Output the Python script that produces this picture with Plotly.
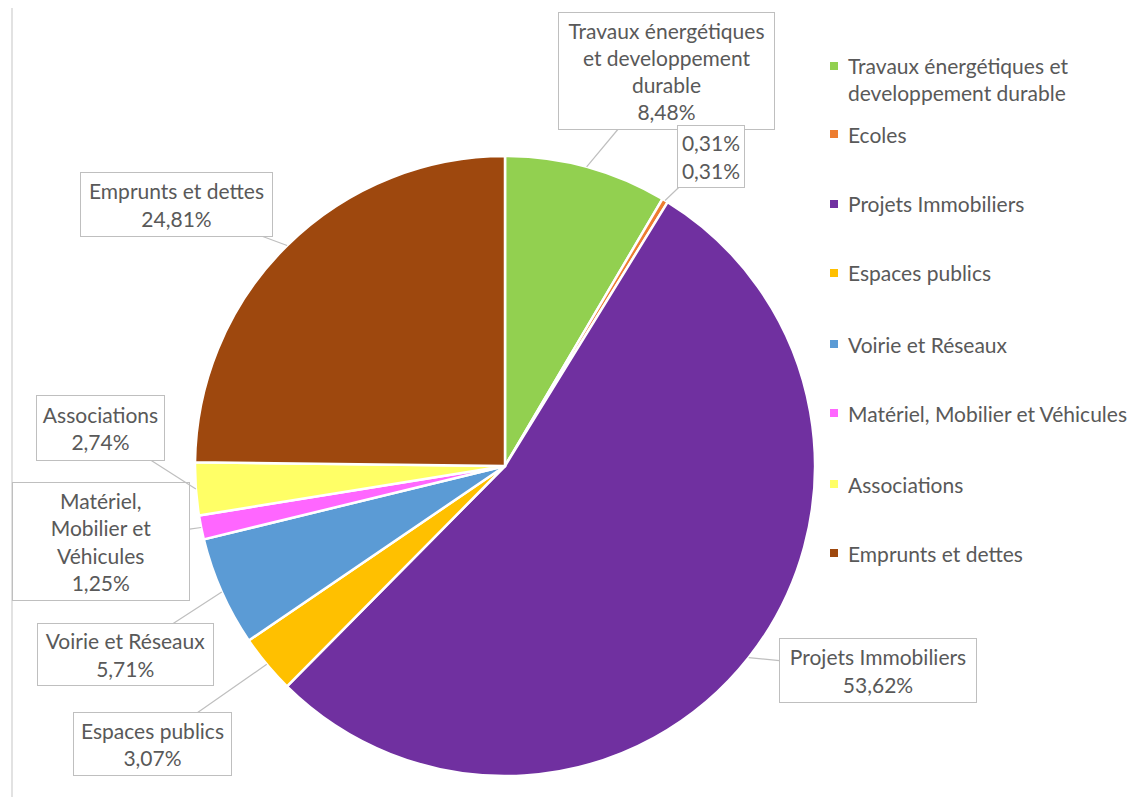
import math
import plotly.graph_objects as go

# ---- data ----
categories = ["Travaux énergétiques et developpement durable", "Ecoles", "Projets Immobiliers",
              "Espaces publics", "Voirie et Réseaux", "Matériel, Mobilier et Véhicules",
              "Associations", "Emprunts et dettes"]
values = [8.48, 0.31, 53.62, 3.07, 5.71, 1.25, 2.74, 24.81]
callout_titles = ["Travaux énergétiques<br>et developpement<br>durable", "0,31%", "Projets Immobiliers",
                  "Espaces publics", "Voirie et Réseaux", "Matériel,<br>Mobilier et<br>Véhicules",
                  "Associations", "Emprunts et dettes"]
legend_labels = ["Travaux énergétiques et<br>developpement durable", "Ecoles", "Projets Immobiliers",
                 "Espaces publics", "Voirie et Réseaux", "Matériel, Mobilier et Véhicules",
                 "Associations", "Emprunts et dettes"]
colors = ["#92D050", "#ED7D31", "#7030A0", "#FFC000", "#5B9BD5", "#FF66FF", "#FFFF66", "#9E480E"]

# ---- layout (pixels, screen coords; page body adds an 8px offset) ----
W, H = 1136, 797
OFF = 8
CX, CY, R = 505, 466, 310
box_c = [(666.5, 71), (711, 156.5), (878, 670.5), (152.5, 744), (125.5, 654.5), (101, 541.5), (100.5, 428), (176.5, 204.5)]
box_s = [(217, 118), (68, 63), (198, 65), (159, 64), (177, 63), (178, 119), (129, 66), (193, 65)]
legend_y = [79.5, 134, 204, 273, 344, 413, 484, 553]
legend_marker_y = [66, 134, 204, 273, 344, 413, 484, 553]

FONT = "Lato"
FS = 21
TXT = "#595959"
BORDER = "#BFBFBF"

def fmt(v):
    return f"{v:.2f}".replace(".", ",") + "%"

def px2paper(x, y):
    return (x - OFF) / W, 1 - (y - OFF) / H

fig = go.Figure()
x0p, y1p = px2paper(CX - R, CY - R)
x1p, y0p = px2paper(CX + R, CY + R)
fig.add_trace(go.Pie(
    labels=categories, values=values, sort=False, direction="clockwise", rotation=0,
    marker=dict(colors=colors, line=dict(color="white", width=2.5)),
    textinfo="none", showlegend=False,
    domain=dict(x=[x0p, x1p], y=[y0p, y1p]),
))

annotations = []
total = sum(values)
cum = 0.0
for i, v in enumerate(values):
    mid = (cum + v / 2) / total
    cum += v
    ang = 2 * math.pi * mid
    tx = CX + R * math.sin(ang)
    ty = CY - R * math.cos(ang)
    bx, by = box_c[i]
    bw, bh = box_s[i]
    px_, py_ = px2paper(tx, ty)
    annotations.append(dict(
        x=px_, y=py_, xref="paper", yref="paper",
        text=f"{callout_titles[i]}<br>{fmt(v)}",
        showarrow=True, arrowhead=0, arrowwidth=1.2, arrowcolor=BORDER,
        ax=bx - tx, ay=by - ty, axref="pixel", ayref="pixel",
        bgcolor="white", bordercolor=BORDER, borderwidth=1, borderpad=1,
        width=bw - 4, height=bh - 4, align="center", valign="middle",
        font=dict(family=FONT, size=FS, color=TXT),
    ))

lx0, _ = px2paper(12, 0)
shapes = [dict(type="line", xref="paper", yref="paper", x0=lx0, x1=lx0, y0=0, y1=1.02,
               line=dict(color="#D9D9D9", width=1.5))]
for i, lab in enumerate(legend_labels):
    my = legend_marker_y[i]
    ax0, ay1 = px2paper(830, my - 4)
    ax1, ay0 = px2paper(838, my + 4)
    shapes.append(dict(type="rect", xref="paper", yref="paper",
                       x0=ax0, x1=ax1, y0=ay0, y1=ay1,
                       fillcolor=colors[i], line=dict(width=0)))
    lx, ly = px2paper(846, legend_y[i])
    annotations.append(dict(x=lx, y=ly, xref="paper", yref="paper", text=lab, showarrow=False,
                            xanchor="left", yanchor="middle", align="left",
                            font=dict(family=FONT, size=FS, color=TXT)))

fig.update_layout(width=W, height=H, margin=dict(l=0, r=0, t=0, b=0),
                  paper_bgcolor="white", plot_bgcolor="white",
                  annotations=annotations, shapes=shapes)
fig.write_html("out.html")
